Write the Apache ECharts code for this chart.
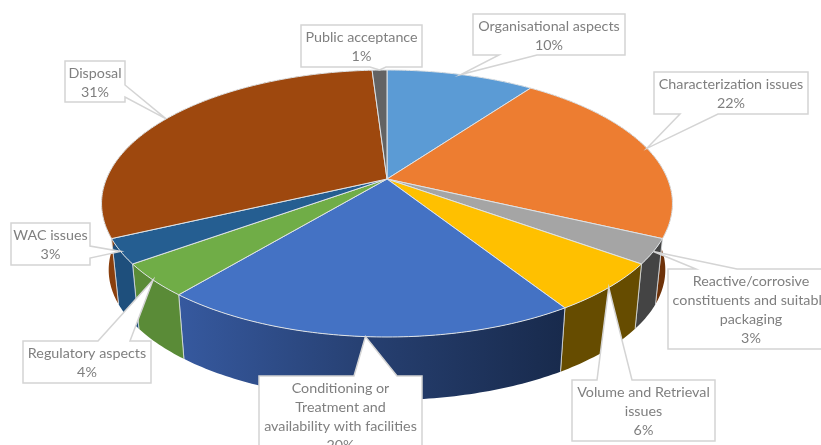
<!DOCTYPE html>
<html>
<head>
<meta charset="utf-8">
<title>Waste management challenges</title>
<style>html,body{margin:0;padding:0;background:#fff}#chart{width:821px;height:445px}</style>
<script src="https://cdn.jsdelivr.net/npm/echarts@6/dist/echarts.min.js"></script>
</head>
<body>
<div id="chart"></div>
<script>
// Slices, clockwise from twelve o'clock.
const categories = [
  'Organisational aspects',
  'Characterization issues',
  'Reactive/corrosive\nconstituents and suitable\npackaging',
  'Volume and Retrieval\nissues',
  'Conditioning or\nTreatment and\navailability with facilities',
  'Regulatory aspects',
  'WAC issues',
  'Disposal',
  'Public acceptance'
];
const values = [10, 22, 3, 6, 20, 4, 3, 31, 1];
const topColors = ['#5B9BD5', '#ED7D31', '#A5A5A5', '#FFC000', '#4472C4', '#70AD47', '#255E91', '#9E480E', '#636363'];
const wallColors = ['#36658f', '#6e3209', '#444444', '#664c00', null, '#5a8b37', '#1e4f7c', '#8a3f0d', '#444444'];

// Callout boxes: box rectangle, the edge the pointer leaves from, and the pointer's base on that edge.
const callouts = [
  { x: 473, y: 14,  w: 152, h: 41, edge: 'bottom', a: 499, b: 537 },
  { x: 654, y: 72,  w: 154, h: 42, edge: 'bottom', a: 680, b: 718 },
  { x: 668, y: 269, w: 166, h: 80, edge: 'top',    a: 696, b: 737 },
  { x: 572, y: 380, w: 143, h: 61, edge: 'top',    a: 597, b: 632 },
  { x: 259, y: 376, w: 163, h: 80, edge: 'top',    a: 354, b: 397 },
  { x: 23,  y: 341, w: 128, h: 42, edge: 'top',    a: 98,  b: 130 },
  { x: 11,  y: 223, w: 79,  h: 42, edge: 'right',  a: 246, b: 258 },
  { x: 65,  y: 61,  w: 60,  h: 41, edge: 'right',  a: 85,  b: 97 },
  { x: 301, y: 25,  w: 121, h: 42, edge: 'bottom', a: 370, b: 386 }
];

// Perspective disc: centre on screen, radii and the foreshortening factor.
const disc = { cx: 387, cy: 179, rx: 280.6, ry: 129, persp: 0.1835 };
// The lower rim is the upper rim shrunk slightly and moved down.
const base = { cy: 246, scale: 0.975 };

const total = values.reduce((a, b) => a + b, 0);
const starts = [];
values.reduce((sum, v, i) => { starts[i] = sum; return sum + v; }, 0);

function rimPoint(share) {
  const t = share / total * Math.PI * 2;
  const u = Math.sin(t), v = -Math.cos(t);
  const w = 1 - disc.persp * v;
  return [disc.cx + disc.rx * u / w, disc.cy + disc.ry * v / w];
}
function basePoint(share) {
  const p = rimPoint(share);
  return [disc.cx + base.scale * (p[0] - disc.cx), base.cy + base.scale * (p[1] - disc.cy)];
}
function arc(from, to, fn) {
  const n = Math.max(2, Math.ceil((to - from) * 4));
  const pts = [];
  for (let i = 0; i <= n; i++) pts.push(fn(from + (to - from) * i / n));
  return pts;
}

const edgeColor = '#dfe3e6';

function renderWall(params, api) {
  const i = params.dataIndex;
  const from = starts[i], to = from + api.value(0);
  const shape = arc(from, to, rimPoint).concat(arc(from, to, basePoint).reverse());
  const fill = wallColors[i] || {
    type: 'linear', x: 0, y: 0, x2: 1, y2: 0,
    colorStops: [
      { offset: 0, color: '#36599f' },
      { offset: 0.5, color: '#263f70' },
      { offset: 1, color: '#182a4c' }
    ]
  };
  const children = [{ type: 'polygon', shape: { points: shape }, style: { fill: fill } }];
  [from, to].forEach(s => {
    const a = rimPoint(s), b = basePoint(s);
    children.push({
      type: 'line',
      shape: { x1: a[0], y1: a[1], x2: b[0], y2: b[1] },
      style: { stroke: edgeColor, lineWidth: 1, opacity: 0.75 }
    });
  });
  return { type: 'group', children: children };
}

function renderTop(params, api) {
  const i = params.dataIndex;
  const from = starts[i], to = from + api.value(0);
  const shape = [[disc.cx, disc.cy]].concat(arc(from, to, rimPoint));
  return {
    type: 'polygon',
    shape: { points: shape },
    style: { fill: topColors[i], stroke: edgeColor, lineWidth: 1, lineJoin: 'round' }
  };
}

function renderCallout(params, api) {
  const i = params.dataIndex;
  const c = callouts[i];
  const tip = rimPoint(starts[i] + api.value(0) / 2);
  const l = c.x, r = c.x + c.w, t = c.y, b = c.y + c.h;
  let pts;
  if (c.edge === 'bottom') pts = [[l, t], [r, t], [r, b], [c.b, b], tip, [c.a, b], [l, b]];
  else if (c.edge === 'top') pts = [[l, t], [c.a, t], tip, [c.b, t], [r, t], [r, b], [l, b]];
  else pts = [[l, t], [r, t], [r, c.a], tip, [r, c.b], [r, b], [l, b]];
  return {
    type: 'group',
    children: [
      { type: 'polygon', shape: { points: pts }, style: { fill: '#ffffff', stroke: '#d4d4d4', lineWidth: 1.5 } },
      {
        type: 'text',
        style: {
          text: categories[i] + '\n' + api.value(0) + '%',
          x: c.x + c.w / 2,
          y: c.y + c.h / 2 + 1,
          align: 'center',
          verticalAlign: 'middle',
          fontFamily: 'Lato',
          fontSize: 14.3,
          lineHeight: 18.8,
          fill: '#7f7f7f'
        }
      }
    ]
  };
}

const chart = echarts.init(document.getElementById('chart'), null, { renderer: 'canvas' });
const layer = (render, z) => ({
  type: 'custom',
  coordinateSystem: 'none',
  renderItem: render,
  data: values,
  silent: true,
  animation: false,
  z: z
});
chart.setOption({
  animation: false,
  backgroundColor: '#ffffff',
  series: [layer(renderWall, 1), layer(renderTop, 2), layer(renderCallout, 3)]
});
</script>
</body>
</html>
